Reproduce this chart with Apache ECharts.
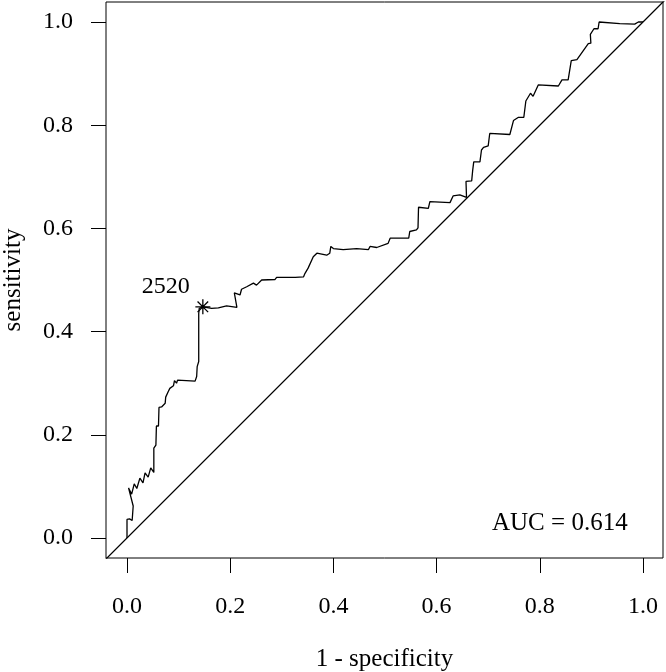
<!DOCTYPE html>
<html>
<head>
<meta charset="utf-8">
<script src="https://cdn.jsdelivr.net/npm/echarts@6/dist/echarts.min.js"></script>
<style>
  html, body { margin: 0; padding: 0; background: #fff; }
  #main { width: 666px; height: 672px; }
</style>
</head>
<body>
<div id="main"></div>
<script>
// ROC 曲线数据 (1 - specificity, sensitivity)
const fpr = [0, 0, 0.005, 0.010, 0.012, 0.003, 0.009, 0.014, 0.019, 0.025, 0.031, 0.035, 0.041, 0.046, 0.052,
  0.052, 0.056, 0.057, 0.061, 0.062, 0.067, 0.074, 0.075, 0.080, 0.083, 0.090, 0.092, 0.096, 0.098, 0.132,
  0.135, 0.136, 0.139, 0.139, 0.140, 0.147, 0.164, 0.177, 0.193, 0.213, 0.208, 0.219, 0.222, 0.232, 0.234,
  0.245, 0.251, 0.254, 0.261, 0.287, 0.290, 0.326, 0.342, 0.345, 0.351, 0.361, 0.368, 0.387, 0.393, 0.395,
  0.400, 0.419, 0.445, 0.468, 0.471, 0.484, 0.506, 0.510, 0.526, 0.546, 0.548, 0.561, 0.564, 0.565, 0.584,
  0.587, 0.626, 0.632, 0.645, 0.658, 0.657, 0.668, 0.670, 0.672, 0.684, 0.687, 0.691, 0.700, 0.703, 0.742,
  0.749, 0.758, 0.769, 0.773, 0.782, 0.787, 0.797, 0.836, 0.843, 0.855, 0.861, 0.872, 0.894, 0.899, 0.898,
  0.905, 0.913, 0.915, 0.955, 0.984, 0.991, 1.0];
const tpr = [0, 0.036, 0.037, 0.034, 0.062, 0.097, 0.085, 0.105, 0.096, 0.116, 0.107, 0.126, 0.118, 0.136, 0.127,
  0.174, 0.180, 0.217, 0.217, 0.253, 0.254, 0.261, 0.273, 0.284, 0.290, 0.295, 0.305, 0.300, 0.306, 0.304,
  0.313, 0.332, 0.342, 0.435, 0.445, 0.448, 0.445, 0.446, 0.450, 0.447, 0.475, 0.471, 0.482, 0.487, 0.484,
  0.494, 0.490, 0.488, 0.500, 0.501, 0.505, 0.505, 0.506, 0.513, 0.523, 0.545, 0.552, 0.548, 0.552, 0.565,
  0.561, 0.559, 0.561, 0.559, 0.565, 0.563, 0.571, 0.581, 0.581, 0.581, 0.594, 0.597, 0.601, 0.641, 0.639,
  0.652, 0.650, 0.663, 0.665, 0.660, 0.691, 0.692, 0.713, 0.729, 0.729, 0.752, 0.757, 0.760, 0.784, 0.782,
  0.809, 0.815, 0.815, 0.847, 0.862, 0.856, 0.878, 0.876, 0.888, 0.888, 0.925, 0.927, 0.958, 0.959, 0.976,
  0.987, 0.987, 1.0, 0.997, 0.996, 1.0, 1.0];

// 最佳截断点
const cutoffPoint = [0.147, 0.448];
const cutoffLabel = "2520";
const aucText = "AUC = 0.614";

// 参考对角线
const diagonal = [-0.05, 1.05];

const tickValues = [0, 0.2, 0.4, 0.6, 0.8, 1.0];

const font = "'Liberation Serif', 'DejaVu Serif', serif";

const chart = echarts.init(document.getElementById("main"), null, { renderer: "canvas" });

const axisCommon = {
  type: "value",
  splitLine: { show: false },
  axisLine: { show: false, onZero: false },
  axisTick: {
    show: true,
    length: 15,
    customValues: tickValues,
    lineStyle: { color: "#000", width: 1 },
  },
  axisLabel: {
    customValues: tickValues,
    color: "#000",
    fontFamily: font,
    fontSize: 24,
    formatter: (v) => v.toFixed(1),
  },
  nameLocation: "middle",
  nameTextStyle: { color: "#000", fontFamily: font, fontSize: 25 },
};

const options = {
  backgroundColor: "#fff",
  animation: false,
  grid: {
    left: 106,
    top: 2,
    width: 557,
    height: 556,
    outerBoundsMode: "none", // 不让 v6 自动收缩网格
    show: true,
    borderColor: "#000",
    borderWidth: 1,
    backgroundColor: "transparent",
  },
  xAxis: Object.assign({}, axisCommon, {
    min: -0.0407,
    max: 1.0388,
    name: "1 - specificity",
    nameGap: 89,
    axisLabel: Object.assign({}, axisCommon.axisLabel, { margin: 37 }),
  }),
  yAxis: Object.assign({}, axisCommon, {
    min: -0.0388,
    max: 1.0388,
    name: "sensitivity",
    nameGap: 80,
    axisLabel: Object.assign({}, axisCommon.axisLabel, { margin: 33 }),
  }),
  series: [
    {
      // 对角线
      type: "line",
      data: diagonal.map((v) => [v, v]),
      symbol: "none",
      lineStyle: { color: "#000", width: 1.3 },
      silent: true,
    },
    {
      // ROC 曲线
      type: "line",
      data: fpr.map((x, i) => [x, tpr[i]]),
      symbol: "none",
      lineStyle: { color: "#000", width: 1.3 },
      silent: true,
    },
    {
      // 截断点
      type: "scatter",
      data: [cutoffPoint],
      symbol: "path://M0,-1L0,1M-1,0L1,0M-0.707,-0.707L0.707,0.707M-0.707,0.707L0.707,-0.707",
      symbolSize: 15,
      itemStyle: { color: "none", borderColor: "#000", borderWidth: 1.3, opacity: 1 },
      label: {
        show: true,
        formatter: cutoffLabel,
        position: "left",
        distance: 3,
        offset: [0, -20],
        color: "#000",
        opacity: 1,
        textBorderWidth: 0,
        fontFamily: font,
        fontSize: 24,
      },
      silent: true,
    },
  ],
  graphic: [
    {
      type: "text",
      left: 492,
      top: 511,
      style: { text: aucText, fill: "#000", font: "25px " + font },
    },
  ],
};

chart.setOption(options);
</script>
</body>
</html>
